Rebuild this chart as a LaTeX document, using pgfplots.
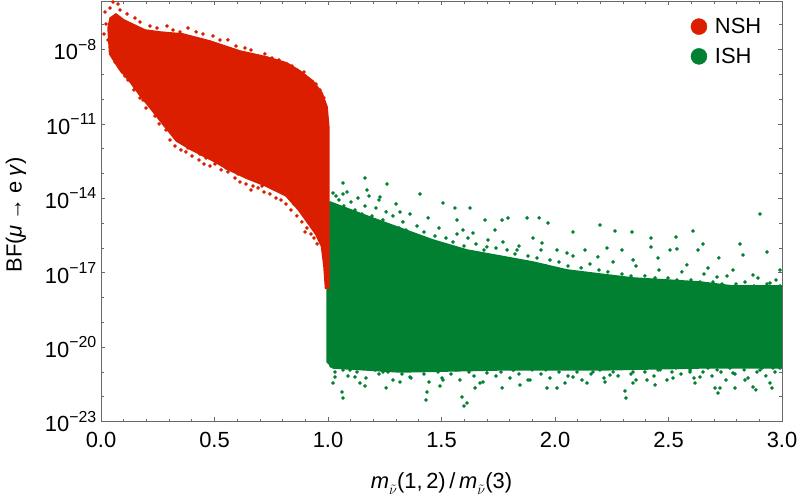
\documentclass[border=0pt]{standalone}
\usepackage{fontspec}
\setmainfont{Liberation Sans}
\usepackage{pgfplots}
\usepackage{pgfplotstable}
\pgfplotsset{compat=1.18}
\definecolor{nshred}{RGB}{219,30,0}
\definecolor{ishgreen}{RGB}{0,128,48}
\definecolor{framegray}{RGB}{105,105,105}
\newcommand\pw[1]{10\raisebox{0.45em}{\fontsize{16}{16}\selectfont −#1}}
\newcommand\mnu{\textit{m}\raisebox{-0.3em}{\fontsize{15}{15}\selectfont$\tilde{\nu}$}}

% dense core of the NSH cloud
\pgfplotstableread{
x y
0.031 7.36e-8
0.040 1.86e-7
0.066 2.70e-7
0.101 1.55e-7
0.194 6.11e-8
0.260 5.08e-8
0.361 4.22e-8
0.480 2.20e-8
0.612 8.71e-9
0.731 4.99e-9
0.819 2.86e-9
0.877 1.36e-9
0.934 5.37e-10
0.974 1.76e-10
0.996 4.81e-11
1.004 6.84e-12
1.004 2.40e-18
0.989 2.40e-18
0.982 1.87e-17
0.971 1.19e-16
0.945 3.64e-16
0.914 9.22e-16
0.870 3.38e-15
0.815 1.24e-14
0.726 3.13e-14
0.638 6.59e-14
0.563 1.39e-13
0.486 3.51e-13
0.398 8.89e-13
0.332 2.05e-12
0.275 9.04e-12
0.213 4.80e-11
0.170 1.46e-10
0.125 5.37e-10
0.081 1.56e-9
0.038 6.58e-9
}\nshcore

% scattered NSH points
\pgfplotstableread{
x y
0.040 4.71e-7
0.053 8.22e-7
0.075 6.84e-7
0.018 3.25e-7
0.084 3.92e-7
0.115 2.70e-7
0.150 1.86e-7
0.172 1.29e-7
0.216 8.87e-8
0.247 7.36e-8
0.291 8.87e-8
0.317 6.11e-8
0.348 5.08e-8
0.383 7.36e-8
0.419 5.08e-8
0.449 4.22e-8
0.493 3.50e-8
0.524 2.42e-8
0.559 2.42e-8
0.595 1.38e-8
0.634 1.15e-8
0.661 9.55e-9
0.692 5.47e-9
0.722 6.59e-9
0.753 4.54e-9
0.784 3.78e-9
0.815 2.61e-9
0.841 2.16e-9
0.863 1.49e-9
0.894 1.24e-9
0.916 5.89e-10
0.947 4.06e-10
0.965 2.33e-10
0.982 1.11e-10
0.022 1.07e-7
0.013 4.22e-8
0.031 2.42e-8
0.048 9.55e-9
0.070 5.47e-9
0.079 3.13e-9
0.110 2.16e-9
0.123 1.03e-9
0.150 8.55e-10
0.163 4.06e-10
0.194 2.81e-10
0.203 1.33e-10
0.229 9.20e-11
0.242 4.38e-11
0.264 3.02e-11
0.273 1.73e-11
0.300 1.19e-11
0.313 6.84e-12
0.330 3.92e-12
0.361 3.25e-12
0.370 1.55e-12
0.392 1.87e-12
0.423 1.29e-12
0.449 8.87e-13
0.458 5.08e-13
0.489 5.08e-13
0.507 7.36e-13
0.533 4.22e-13
0.551 2.91e-13
0.581 2.01e-13
0.599 1.67e-13
0.626 1.15e-13
0.648 7.94e-14
0.665 9.55e-14
0.687 5.47e-14
0.709 6.59e-14
0.736 4.55e-14
0.753 3.13e-14
0.780 2.61e-14
0.802 1.80e-14
0.824 2.16e-14
0.841 1.24e-14
0.859 7.10e-15
0.877 4.06e-15
0.890 2.33e-15
0.903 3.38e-15
0.916 1.61e-15
0.930 1.11e-15
0.943 6.35e-16
0.956 4.39e-16
0.965 2.51e-16
0.974 1.44e-16
0.982 6.84e-17
0.987 2.70e-17
0.991 1.29e-17
0.991 6.12e-18
0.361 1.87e-12
0.405 1.07e-12
0.436 6.12e-13
0.463 4.22e-13
0.670 3.13e-14
0.604 9.55e-14
0.515 2.91e-13
0.423 8.87e-13
0.062 3.13e-9
0.093 1.24e-9
0.119 5.89e-10
0.145 2.33e-10
0.172 1.11e-10
0.198 4.38e-11
0.216 6.35e-11
0.238 2.08e-11
0.256 9.91e-12
0.286 5.68e-12
0.304 2.24e-12
0.326 1.29e-12
0.352 8.87e-13
0.374 7.36e-13
0.401 5.08e-13
0.432 3.51e-13
0.454 2.42e-13
0.480 2.01e-13
0.502 2.42e-13
0.529 1.39e-13
0.559 1.15e-13
0.590 6.59e-14
0.612 4.55e-14
0.639 3.78e-14
0.661 2.16e-14
0.692 2.61e-14
0.718 1.80e-14
0.744 1.49e-14
0.771 1.03e-14
0.793 8.55e-15
0.815 5.90e-15
0.837 3.38e-15
0.863 1.94e-15
0.885 1.11e-15
0.907 6.35e-16
0.925 3.64e-16
0.938 2.51e-16
0.952 1.44e-16
0.899 4.39e-16
0.850 5.90e-15
0.709 3.13e-14
0.551 1.67e-13
0.383 1.07e-12
0.260 1.73e-11
0.185 9.20e-11
0.106 8.55e-10
}\nshpts

% dense core of the ISH cloud
\pgfplotstableread{
x y
0.996 5.90e-15
1.009 7.10e-15
1.172 1.94e-15
1.317 6.35e-16
1.463 2.08e-16
1.612 8.24e-17
1.758 4.72e-17
1.903 2.70e-17
2.053 1.29e-17
2.198 8.87e-18
2.344 6.12e-18
2.493 5.08e-18
2.639 4.23e-18
2.784 2.91e-18
3.035 2.91e-18
3.035 1.44e-21
2.639 1.44e-21
2.198 1.20e-21
1.758 1.20e-21
1.317 9.93e-22
1.022 1.44e-21
0.996 2.51e-21
}\ishcore

% scattered ISH points
\pgfplotstableread{
x y
1.018 5.90e-15
1.035 1.24e-14
1.048 8.55e-15
1.070 4.90e-15
1.084 1.80e-14
1.101 7.10e-15
1.119 3.38e-15
1.132 1.03e-14
1.150 2.33e-15
1.163 4.90e-15
1.181 1.24e-14
1.194 1.94e-15
1.211 4.06e-15
1.225 8.55e-15
1.242 1.34e-15
1.256 2.81e-15
1.273 7.66e-16
1.286 1.94e-15
1.300 5.90e-15
1.313 6.35e-16
1.330 1.11e-15
1.344 5.27e-16
1.361 2.33e-15
1.374 3.02e-16
1.392 7.66e-16
1.410 2.08e-16
1.423 4.39e-16
1.441 1.61e-15
1.454 1.73e-16
1.471 3.02e-16
1.489 6.35e-16
1.502 1.44e-16
1.520 2.51e-16
1.537 8.24e-17
1.551 1.73e-16
1.568 3.64e-16
1.586 6.84e-17
1.599 1.19e-16
1.617 2.51e-16
1.634 6.84e-17
1.652 1.44e-16
1.670 3.92e-17
1.687 8.24e-17
1.705 2.08e-16
1.722 4.72e-17
1.740 9.93e-17
1.771 3.92e-17
1.789 8.24e-17
1.806 2.70e-17
1.824 5.69e-17
1.841 1.19e-16
1.863 2.70e-17
1.881 4.72e-17
1.899 2.25e-17
1.921 3.92e-17
1.938 8.24e-17
1.960 1.87e-17
1.978 3.26e-17
2.000 1.29e-17
2.018 2.70e-17
2.040 1.07e-17
2.057 1.87e-17
2.079 4.72e-17
2.097 8.87e-18
2.115 1.55e-17
2.137 7.38e-18
2.154 2.25e-17
2.176 7.38e-18
2.194 1.29e-17
2.216 5.08e-18
2.233 1.07e-17
2.256 2.70e-17
2.273 5.08e-18
2.295 8.87e-18
2.313 4.23e-18
2.335 7.38e-18
2.357 1.87e-17
2.374 4.23e-18
2.396 7.38e-18
2.419 3.51e-18
2.441 6.12e-18
2.458 1.29e-17
2.480 3.51e-18
2.498 6.12e-18
2.520 2.91e-18
2.537 5.08e-18
2.559 1.07e-17
2.577 2.91e-18
2.599 5.08e-18
2.617 2.42e-18
2.639 4.23e-18
2.656 8.87e-18
2.678 2.42e-18
2.696 4.23e-18
2.718 2.01e-18
2.736 3.51e-18
2.758 7.38e-18
2.775 2.01e-18
2.797 3.51e-18
2.815 2.01e-18
2.837 4.23e-18
2.855 2.01e-18
2.877 2.91e-18
2.894 6.12e-18
2.916 2.01e-18
2.934 3.51e-18
2.956 2.01e-18
2.974 5.08e-18
2.991 2.91e-18
1.163 6.59e-14
1.066 4.14e-14
1.260 3.78e-14
1.172 2.16e-14
1.066 1.49e-14
1.405 1.49e-14
1.022 1.64e-14
1.229 1.13e-14
1.507 6.47e-15
1.559 4.06e-15
1.626 4.06e-15
1.317 2.81e-15
1.692 1.33e-15
1.767 1.33e-15
1.793 1.61e-15
1.877 1.61e-15
1.930 1.61e-15
1.969 1.01e-15
2.198 8.39e-16
2.903 2.33e-15
2.079 4.39e-16
2.264 4.81e-16
2.339 4.39e-16
2.608 4.81e-16
2.533 2.75e-16
2.423 2.51e-16
2.423 1.09e-16
2.652 1.44e-16
2.815 1.44e-16
2.630 8.24e-17
2.722 3.93e-17
2.828 5.18e-17
2.934 6.84e-17
2.991 1.29e-17
1.903 2.51e-16
1.943 1.58e-16
1.736 5.27e-16
1.568 1.33e-15
1.639 3.99e-16
1.595 5.27e-16
2.132 8.24e-17
2.229 9.93e-17
2.295 8.24e-17
2.507 8.24e-17
2.537 9.04e-17
2.581 2.05e-17
2.454 3.93e-17
2.344 3.26e-17
2.189 4.31e-17
2.053 6.24e-17
2.009 8.24e-17
1.833 8.24e-17
1.771 1.73e-16
1.700 1.09e-16
2.714 6.71e-18
2.872 8.09e-18
2.947 3.85e-18
2.784 1.29e-17
2.674 1.55e-17
1.013 1.73e-21
1.031 9.93e-22
1.048 2.08e-21
1.066 1.20e-21
1.088 6.85e-22
1.106 1.73e-21
1.128 9.93e-22
1.145 1.44e-21
1.167 5.69e-22
1.185 2.08e-21
1.207 1.20e-21
1.225 8.24e-22
1.247 1.73e-21
1.264 9.93e-22
1.286 4.72e-22
1.304 1.44e-21
1.326 8.24e-22
1.344 1.73e-21
1.366 5.69e-22
1.383 1.20e-21
1.405 1.73e-21
1.423 8.24e-22
1.445 3.93e-22
1.463 1.44e-21
1.485 9.93e-22
1.502 5.69e-22
1.524 1.73e-21
1.542 8.24e-22
1.564 1.20e-21
1.581 4.72e-22
1.604 1.73e-21
1.621 9.93e-22
1.643 6.85e-22
1.661 1.44e-21
1.683 3.93e-22
1.700 1.20e-21
1.722 1.73e-21
1.740 6.85e-22
1.762 9.93e-22
1.780 1.73e-21
1.802 5.69e-22
1.819 1.20e-21
1.841 8.24e-22
1.859 1.73e-21
1.881 4.72e-22
1.899 1.20e-21
1.921 1.73e-21
1.938 8.24e-22
1.960 1.20e-21
1.978 5.69e-22
2.000 1.73e-21
2.018 9.93e-22
2.040 1.44e-21
2.057 6.85e-22
2.079 1.73e-21
2.097 9.93e-22
2.119 4.72e-22
2.137 1.44e-21
2.159 8.24e-22
2.176 1.73e-21
2.198 1.20e-21
2.216 5.69e-22
2.238 1.73e-21
2.256 9.93e-22
2.278 6.85e-22
2.295 1.44e-21
2.317 1.73e-21
2.335 8.24e-22
2.357 4.72e-22
2.374 1.44e-21
2.396 9.93e-22
2.414 1.73e-21
2.436 6.85e-22
2.454 1.20e-21
2.476 1.73e-21
2.493 4.72e-22
2.515 9.93e-22
2.533 1.44e-21
2.555 8.24e-22
2.573 1.73e-21
2.595 1.20e-21
2.612 5.69e-22
2.634 1.73e-21
2.652 9.93e-22
2.674 1.44e-21
2.692 6.85e-22
2.714 1.73e-21
2.731 9.93e-22
2.753 4.72e-22
2.771 1.44e-21
2.793 8.24e-22
2.811 1.73e-21
2.833 1.20e-21
2.850 5.69e-22
2.872 1.73e-21
2.890 9.93e-22
2.912 1.44e-21
2.929 6.85e-22
2.952 1.73e-21
2.969 9.93e-22
2.991 1.44e-21
1.022 3.57e-22
1.062 1.55e-22
1.031 6.24e-22
1.141 3.57e-22
1.163 2.70e-22
1.256 2.25e-22
1.436 1.55e-22
1.590 9.75e-23
1.648 2.25e-22
1.670 3.57e-22
1.767 2.25e-22
1.965 2.25e-22
2.009 2.25e-22
2.141 3.57e-22
2.308 1.70e-22
2.344 3.57e-22
2.405 4.72e-22
2.705 2.25e-22
2.727 2.25e-22
2.793 2.25e-22
2.872 2.47e-22
2.947 3.57e-22
1.507 4.72e-22
1.890 4.72e-22
2.079 6.24e-22
2.242 7.52e-22
2.520 5.69e-22
2.639 6.24e-22
2.784 9.06e-22
2.903 1.20e-21
1.361 6.24e-22
1.242 9.93e-22
1.097 1.20e-21
1.700 9.06e-22
1.815 1.20e-21
2.167 9.93e-22
2.344 9.93e-22
2.463 1.20e-21
2.595 9.93e-22
2.714 1.20e-21
2.960 1.44e-21
1.066 8.89e-23
1.612 5.58e-23
1.599 4.23e-23
1.432 7.38e-23
2.313 8.89e-23
2.718 1.41e-22
2.885 1.87e-22
2.956 2.25e-22
2.837 4.72e-22
2.617 3.57e-22
2.441 2.97e-22
2.220 3.93e-22
2.044 3.57e-22
1.846 2.97e-22
1.493 2.70e-22
1.317 3.93e-22
1.119 6.24e-22
}\ishpts

\begin{document}
\begin{tikzpicture}
\begin{axis}[
  scale only axis, width=681bp, height=420.5bp,
  xmin=0, xmax=3, ymode=log, ymin=1e-23, ymax=9e-7,
  axis line style={framegray, line width=0.9bp},
  tick style={framegray, line width=0.7bp},
  major tick length=4.5bp, minor tick length=2.7bp,
  tick align=inside,
  xtick={0,0.5,1,1.5,2,2.5,3},
  xticklabels={0.0,0.5,1.0,1.5,2.0,2.5,3.0},
  minor x tick num=4,
  ytick={1e-23,1e-20,1e-17,1e-14,1e-11,1e-8},
  yticklabels={\pw{23},\pw{20},\pw{17},\pw{14},\pw{11},\pw{8}},
  minor ytick={1e-22,1e-21,1e-19,1e-18,1e-16,1e-15,1e-13,1e-12,1e-10,1e-9,1e-7},
  ticklabel style={font=\fontsize{22}{22}\selectfont, text=black},
  xticklabel style={inner ysep=0pt, anchor=north, yshift=-10.5bp},
  yticklabel style={inner xsep=0pt, anchor=east, xshift=-4.5bp},
  xlabel={\mnu(1,\,2)\,/\,\mnu(3)},
  every axis x label/.style={at={(rel axis cs:0.5,0)}, anchor=base, yshift=-66.5bp, font=\fontsize{22}{22}\selectfont},
  ylabel={BF(\textit{μ}\hspace{0.22em}→\hspace{0.22em}e\hspace{0.2em}\textit{γ})},
  every axis y label/.style={at={(rel axis cs:0,0.491)}, xshift=-85bp, rotate=90, anchor=center, font=\fontsize{22}{22}\selectfont},
  legend style={at={(rel axis cs:0.866,0.9037)}, anchor=west, draw=none, fill=none,
    font=\fontsize{22}{22}\selectfont, row sep=9bp, column sep=6bp, inner sep=0pt},
  legend cell align=left,
]
\addplot[fill=ishgreen, draw=ishgreen, line width=1.5bp, forget plot] table {\ishcore} -- cycle;
\addplot[only marks, mark=*, mark size=1.6bp, ishgreen, forget plot] table {\ishpts};
\addplot[fill=nshred, draw=nshred, line width=1.5bp, forget plot] table {\nshcore} -- cycle;
\addplot[only marks, mark=*, mark size=1.6bp, nshred, forget plot] table {\nshpts};
\addlegendimage{only marks, mark=*, mark size=8bp, nshred}
\addlegendentry{NSH}
\addlegendimage{only marks, mark=*, mark size=8bp, ishgreen}
\addlegendentry{ISH}
\coordinate (ll) at (rel axis cs:0,0);
\coordinate (ur) at (rel axis cs:1,1);
\end{axis}
\pgfresetboundingbox
\path ([shift={(-101bp,-79.5bp)}]ll) rectangle ([shift={(18bp,1bp)}]ur);
\end{tikzpicture}
\end{document}
